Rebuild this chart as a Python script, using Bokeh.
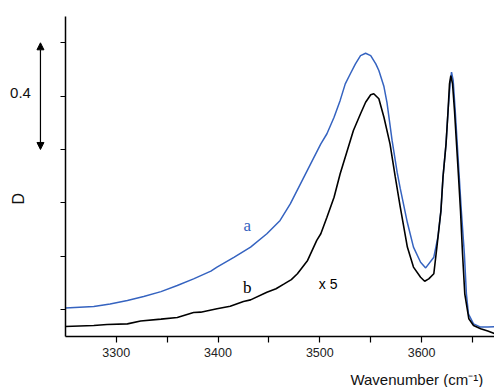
from bokeh.plotting import figure
from bokeh.models import Range1d, FixedTicker, Label, Arrow, NormalHead
from bokeh.embed import file_html
from bokeh.resources import INLINE

# Spectrum a (blue)
wn_a = [3250, 3278, 3294, 3311, 3327, 3344, 3360, 3376, 3393, 3399, 3416, 3432,
        3448, 3461, 3471, 3481, 3491, 3501, 3507, 3514, 3520, 3525, 3530, 3535,
        3540, 3545, 3550, 3555, 3558, 3563, 3566, 3571, 3576, 3579, 3586, 3592,
        3599, 3604, 3612, 3616, 3619, 3621, 3624, 3626, 3628, 3629.4, 3631, 3633,
        3635, 3637, 3639, 3642, 3644, 3646, 3651, 3658, 3665, 3672]
d_a = [0.006, 0.011, 0.021, 0.034, 0.049, 0.067, 0.090, 0.115, 0.144, 0.159, 0.196, 0.234,
       0.284, 0.334, 0.396, 0.471, 0.546, 0.621, 0.659, 0.721, 0.784, 0.846, 0.884, 0.921,
       0.952, 0.961, 0.952, 0.921, 0.896, 0.836, 0.776, 0.634, 0.514, 0.454, 0.326, 0.234,
       0.177, 0.156, 0.196, 0.271, 0.371, 0.496, 0.621, 0.746, 0.846, 0.890, 0.859, 0.746,
       0.621, 0.496, 0.371, 0.209, 0.059, -0.016, -0.054, -0.066, -0.066, -0.064]

# Spectrum b (black, x5)
wn_b = [3250, 3278, 3291, 3311, 3324, 3344, 3360, 3376, 3383, 3399, 3412, 3425,
        3432, 3448, 3457, 3465, 3472, 3478, 3488, 3497, 3501, 3507, 3514, 3520,
        3527, 3533, 3540, 3545, 3550, 3553, 3558, 3563, 3569, 3574, 3579, 3586,
        3592, 3599, 3603, 3607, 3612, 3615, 3619, 3621, 3624, 3626, 3627.4, 3628.7,
        3630.4, 3632.3, 3634.3, 3636.3, 3638.2, 3640.2, 3642.4, 3646.4, 3651, 3658,
        3665, 3672]
d_b = [-0.064, -0.060, -0.056, -0.054, -0.043, -0.036, -0.030, -0.011, -0.010, 0.003, 0.012, 0.030,
       0.036, 0.065, 0.078, 0.096, 0.112, 0.134, 0.184, 0.259, 0.284, 0.346, 0.421, 0.509,
       0.596, 0.671, 0.734, 0.777, 0.805, 0.809, 0.790, 0.721, 0.620, 0.500, 0.385, 0.234,
       0.159, 0.121, 0.106, 0.115, 0.134, 0.234, 0.371, 0.496, 0.621, 0.746, 0.846, 0.877,
       0.846, 0.746, 0.621, 0.496, 0.371, 0.209, 0.059, -0.035, -0.060, -0.072,
       -0.081, -0.091]

x_major = [3300, 3400, 3500, 3600]
x_minor = [3350, 3450, 3550, 3650]
y_ticks = [0.0, 0.2, 0.4, 0.6, 0.8, 1.0]
x_bounds = (3250, 3672)
y_bounds = (-0.1, 1.1)

BLUE = "#3563c0"

p = figure(width=494, height=387, output_backend="svg", toolbar_location=None,
           x_range=Range1d(3186.35, 3671.6), y_range=Range1d(-0.2925, 1.1586),
           min_border=0, min_border_left=0, min_border_right=0,
           min_border_top=0, min_border_bottom=0)
p.outline_line_color = None
p.xgrid.grid_line_color = None
p.ygrid.grid_line_color = None
p.background_fill_color = "white"
p.border_fill_color = "white"

p.line(wn_a, d_a, line_color=BLUE, line_width=1.5)
p.line(wn_b, d_b, line_color="black", line_width=1.6)

xa = p.xaxis[0]
xa.fixed_location = y_bounds[0]
xa.bounds = x_bounds
xa.ticker = FixedTicker(ticks=x_major, minor_ticks=x_minor)
xa.axis_line_width = 1.5
xa.major_tick_out = 6
xa.major_tick_in = 0
xa.minor_tick_out = 6
xa.minor_tick_in = 0
xa.major_tick_line_width = 1.2
xa.minor_tick_line_width = 1.2
xa.major_label_text_font = "Liberation Sans"
xa.major_label_text_font_size = "12.5px"
xa.major_label_text_color = "#222222"
xa.major_label_standoff = 6

ya = p.yaxis[0]
ya.fixed_location = x_bounds[0]
ya.bounds = y_bounds
ya.ticker = FixedTicker(ticks=[], minor_ticks=y_ticks)
ya.axis_line_width = 1.5
ya.major_tick_out = 0
ya.major_tick_in = 0
ya.minor_tick_out = 5
ya.minor_tick_in = 0
ya.minor_tick_line_width = 1.2
ya.minor_tick_line_color = "black"

# annotations
p.add_layout(Label(x=3660.5, y=-0.262, text="Wavenumber (cm⁻¹)", text_align="right",
                   text_baseline="alphabetic", text_font="Liberation Sans",
                   text_font_size="15px", text_color="#111111"))
p.add_layout(Label(x=3204, y=0.415, text="D", angle=1.5708, text_align="center",
                   text_baseline="middle", text_font="Liberation Sans",
                   text_font_size="16px", text_color="#111111"))
p.add_layout(Label(x=3206, y=0.81, text="0.4", text_align="center",
                   text_baseline="middle", text_font="Liberation Sans",
                   text_font_size="15px", text_color="#111111"))
p.add_layout(Arrow(x_start=3225.6, y_start=0.6, x_end=3225.6, y_end=1.0,
                   line_color="black", line_width=1.2,
                   start=NormalHead(size=7, fill_color="black", line_color="black"),
                   end=NormalHead(size=7, fill_color="black", line_color="black")))
p.add_layout(Label(x=3428.7, y=0.315, text="a", text_align="center",
                   text_baseline="alphabetic", text_font="Liberation Serif",
                   text_font_size="17px", text_color=BLUE))
p.add_layout(Label(x=3428.7, y=0.0825, text="b", text_align="center",
                   text_baseline="alphabetic", text_font="Liberation Serif",
                   text_font_size="17px", text_color="black"))
p.add_layout(Label(x=3499, y=0.096, text="x 5", text_align="left",
                   text_baseline="alphabetic", text_font="Liberation Sans",
                   text_font_size="14px", text_color="black"))

open("out.html", "w").write(file_html(p, INLINE))
